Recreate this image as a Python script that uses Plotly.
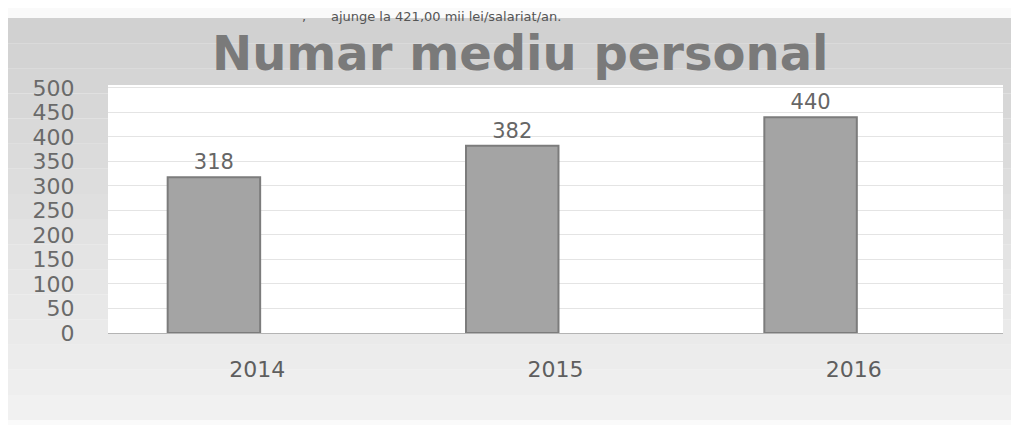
import plotly.graph_objects as go

categories = ["2014", "2015", "2016"]
values = [318, 382, 440]
y_ticks = [0, 50, 100, 150, 200, 250, 300, 350, 400, 450, 500]
title_text = "Numar mediu personal"
header_text = ",      ajunge la 421,00 mii lei/salariat/an."

# the page body has an 8px margin; work in page pixels and convert
OFF = 8
W, H = 1019 - OFF, 425 - OFF
PL, PR, PT, PB = 108, 1003, 85, 333          # plot area in page pixels
L, R, T, B = PL - OFF, W - (PR - OFF), PT - OFF, H - (PB - OFF)
pw, ph = W - L - R, H - T - B


def px(x):
    return (x - OFF - L) / pw


def py(y):
    return (H - B - (y - OFF)) / ph


fig = go.Figure()
fig.add_trace(go.Bar(
    x=categories, y=values,
    width=0.31, offset=-0.30,
    marker=dict(color="#a4a4a4", line=dict(color="#7c7c7c", width=2)),
    text=[str(v) for v in values], textposition="outside",
    textfont=dict(family="DejaVu Sans", size=21, color="#666666"),
    cliponaxis=False,
))

shapes = []
top_c = (209, 209, 209)
bot_c = (241, 241, 241)
n = 16
y0, y1 = 18, 420
for i in range(n):
    a = y0 + (y1 - y0) * i / n
    b = y0 + (y1 - y0) * (i + 1) / n
    t = i / (n - 1)
    c = tuple(int(top_c[k] + (bot_c[k] - top_c[k]) * t) for k in range(3))
    col = "rgb(%d,%d,%d)" % c
    shapes.append(dict(type="rect", xref="paper", yref="paper", layer="below",
                       x0=px(8), x1=px(1019), y0=py(b), y1=py(a),
                       fillcolor=col, line=dict(width=0)))
shapes.append(dict(type="rect", xref="paper", yref="paper", layer="below",
                   x0=0, x1=1, y0=0, y1=1, fillcolor="white", line=dict(width=0)))

fig.update_layout(
    width=W, height=H,
    margin=dict(l=L, r=R, t=T, b=B),
    paper_bgcolor="#fafafa",
    plot_bgcolor="rgba(0,0,0,0)",
    showlegend=False,
    shapes=shapes,
    xaxis=dict(
        type="category", range=[-0.5, 2.5],
        showgrid=False, showline=True, linecolor="#b4b4b4", linewidth=1,
        ticks="outside", ticklen=17, tickcolor="rgba(0,0,0,0)",
        tickfont=dict(family="DejaVu Sans", size=22, color="#5e5e5e"),
    ),
    yaxis=dict(
        range=[0, 506], tickvals=y_ticks,
        showgrid=True, gridcolor="#e4e4e4", gridwidth=1,
        zeroline=False, showline=False,
        ticks="outside", ticklen=28, tickcolor="rgba(0,0,0,0)",
        tickfont=dict(family="DejaVu Sans", size=22, color="#6a6a6a"),
    ),
    annotations=[
        dict(text="<b>" + title_text + "</b>", xref="paper", yref="paper",
             x=px(520), y=py(53), xanchor="center", yanchor="middle",
             showarrow=False,
             font=dict(family="DejaVu Sans", size=48, color="#7a7a7a")),
        dict(text=header_text, xref="paper", yref="paper",
             x=px(300), y=py(7), xanchor="left", yanchor="top",
             showarrow=False,
             font=dict(family="DejaVu Sans", size=13, color="#555555")),
    ],
)

fig.write_html("out.html")
